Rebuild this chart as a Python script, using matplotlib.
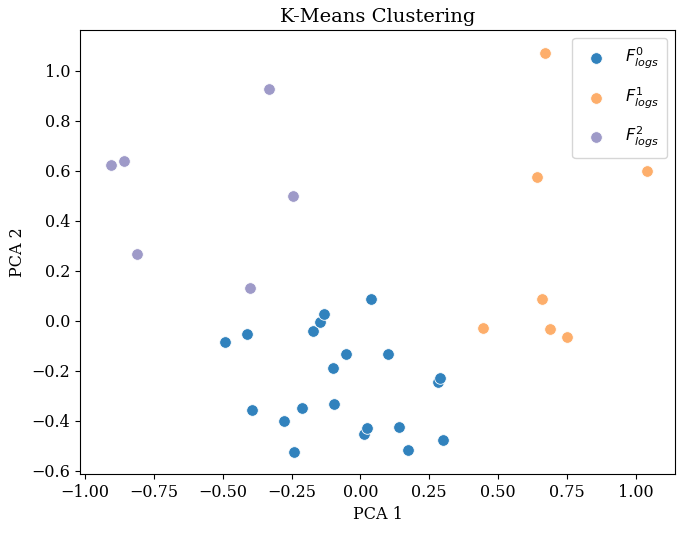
import matplotlib
matplotlib.use("Agg")
import matplotlib.pyplot as plt

plt.rcParams['font.family'] = ['DejaVu Serif']
plt.rcParams['mathtext.fontset'] = 'dejavusans'

cluster_labels = [r'$F^0_{logs}$', r'$F^1_{logs}$', r'$F^2_{logs}$']
cluster_colors = ['#3182bd', '#fdae6b', '#9e9ac8']

c0_x = [-0.492, -0.414, -0.393, -0.279, -0.241, -0.214, -0.174, -0.147, -0.132, -0.052,
        -0.101, -0.097, 0.012, 0.023, 0.038, 0.100, 0.139, 0.173, 0.283, 0.289, 0.301]
c0_y = [-0.084, -0.055, -0.357, -0.400, -0.525, -0.348, -0.042, -0.004, 0.026, -0.132,
        -0.191, -0.335, -0.455, -0.428, 0.088, -0.132, -0.424, -0.516, -0.244, -0.231, -0.479]

c1_x = [0.670, 0.640, 1.042, 0.660, 0.444, 0.689, 0.749]
c1_y = [1.071, 0.574, 0.597, 0.085, -0.031, -0.035, -0.064]

c2_x = [-0.332, -0.908, -0.859, -0.245, -0.811, -0.402]
c2_y = [0.927, 0.621, 0.637, 0.497, 0.267, 0.130]

xs = [c0_x, c1_x, c2_x]
ys = [c0_y, c1_y, c2_y]

fig = plt.figure(figsize=(6.85, 5.33), dpi=100)
ax = fig.add_axes([80/685, 1-474/533, (675-80)/685, (474-30)/533])

for x, y, lab, col in zip(xs, ys, cluster_labels, cluster_colors):
    ax.scatter(x, y, s=70, color=col, edgecolor='white', linewidth=0.6, label=lab)

ax.set_xlim(-1.019, 1.143)
ax.set_ylim(-0.613, 1.162)
ax.set_xticks([-1.0, -0.75, -0.5, -0.25, 0.0, 0.25, 0.5, 0.75, 1.0])
ax.set_yticks([-0.6, -0.4, -0.2, 0.0, 0.2, 0.4, 0.6, 0.8, 1.0])
ax.tick_params(labelsize=11.5)
ax.set_xlabel('PCA 1', fontsize=11.5)
ax.set_ylabel('PCA 2', fontsize=11.5)
ax.set_title('K-Means Clustering', fontsize=14)
ax.legend(loc='upper right', fontsize=11.5, labelspacing=0.9, borderpad=0.5,
          handletextpad=0.8, borderaxespad=0.5)

fig.savefig('out.png', dpi=100)
